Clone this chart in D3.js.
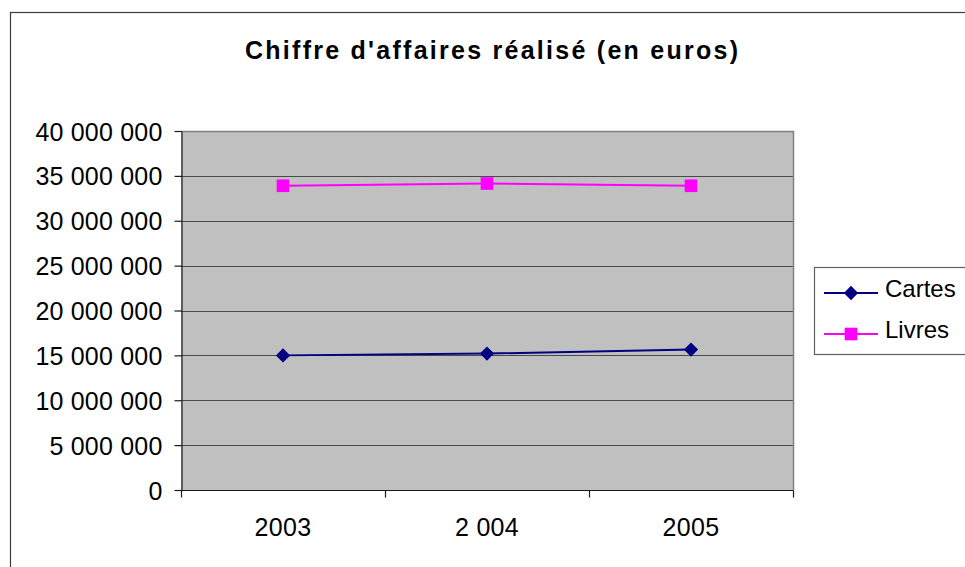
<!DOCTYPE html>
<html>
<head>
<meta charset="utf-8">
<script src="https://cdn.jsdelivr.net/npm/d3@7"></script>
<style>
  body { margin: 0; background: #fff; }
  text { font-family: Arial, "Liberation Sans", sans-serif; fill: #000; }
</style>
</head>
<body>
<div id="chart"></div>
<script>
// data
let categories = ["2003", "2 004", "2005"]
let cartes = [15000000, 15200000, 15650000]
let livres = [33900000, 34150000, 33900000]
let seriesNames = ["Cartes", "Livres"]
let yTicks = [0, 5000000, 10000000, 15000000, 20000000, 25000000, 30000000, 35000000, 40000000]

let width = 965,
    height = 567

let plot = { left: 181, right: 793, top: 131, bottom: 490 }

let fr = d3.formatLocale({ decimal: ",", thousands: " ", grouping: [3], currency: ["", " €"] })
let fmt = fr.format(",")

let svg = d3.select("#chart")
  .append("svg")
    .attr("width", width)
    .attr("height", height)

// outer chart frame (goes past the window on the right and bottom)
svg.append("rect")
  .attr("x", 10.5).attr("y", 12.5)
  .attr("width", 1000).attr("height", 600)
  .attr("fill", "#fff")
  .attr("stroke", "#3c3c3c")
  .attr("stroke-width", 1.2)

// title
svg.append("text")
  .attr("x", 491.5).attr("y", 59)
  .attr("text-anchor", "middle")
  .attr("textLength", 493)
  .attr("lengthAdjust", "spacing")
  .style("font-size", "25px")
  .style("font-weight", "bold")
  .text("Chiffre d'affaires réalisé (en euros)")

let x = d3.scaleBand()
  .domain(categories)
  .range([plot.left, plot.right])
  .padding(0)

let y = d3.scaleLinear()
  .domain([0, 40000000])
  .range([plot.bottom, plot.top])

// plot area background
svg.append("rect")
  .attr("x", plot.left).attr("y", plot.top)
  .attr("width", plot.right - plot.left)
  .attr("height", plot.bottom - plot.top)
  .attr("fill", "#c0c0c0")

// gridlines
svg.append("g")
  .selectAll("line")
  .data(yTicks.filter(d => d > 0 && d < 40000000))
  .join("line")
    .attr("x1", plot.left).attr("x2", plot.right)
    .attr("y1", d => Math.round(y(d)) + 0.5)
    .attr("y2", d => Math.round(y(d)) + 0.5)
    .attr("stroke", "#4a4a4a")
    .attr("stroke-width", 1.2)

// top and right border of plot area
svg.append("path")
  .attr("d", "M" + plot.left + "," + (plot.top + 0.5) + "H" + (plot.right + 0.5) + "V" + plot.bottom)
  .attr("fill", "none")
  .attr("stroke", "#808080")
  .attr("stroke-width", 1.5)

// y axis
let yAxis = svg.append("g")
  .attr("transform", "translate(" + (plot.left + 0.5) + ",0)")
  .call(d3.axisLeft(y).tickValues(yTicks).tickFormat(fmt).tickSize(7).tickPadding(12).tickSizeOuter(0))
yAxis.select(".domain").attr("stroke", "#1a1a1a").attr("stroke-width", 1.2)
yAxis.selectAll(".tick line").attr("stroke", "#1a1a1a").attr("stroke-width", 1.2)
yAxis.selectAll(".tick text")
  .attr("font-family", null)
  .attr("font-size", null)
  .style("font-size", "25px")
  .style("letter-spacing", "0.2px")
  .attr("dy", "0.36em")

// x axis, ticks at the band edges
let xAxis = svg.append("g")
  .attr("transform", "translate(0," + (plot.bottom + 0.5) + ")")
xAxis.append("line")
  .attr("x1", plot.left).attr("x2", plot.right + 0.5)
  .attr("stroke", "#1a1a1a").attr("stroke-width", 1.2)
let edges = categories.map(c => x(c)).concat([plot.right])
xAxis.selectAll(".edge")
  .data(edges)
  .join("line")
    .attr("class", "edge")
    .attr("x1", d => Math.round(d) + 0.5).attr("x2", d => Math.round(d) + 0.5)
    .attr("y1", 0).attr("y2", 7)
    .attr("stroke", "#1a1a1a").attr("stroke-width", 1.2)
xAxis.selectAll(".lbl")
  .data(categories)
  .join("text")
    .attr("class", "lbl")
    .attr("x", d => x(d) + x.bandwidth() / 2)
    .attr("y", 45)
    .attr("text-anchor", "middle")
    .style("font-size", "25px")
    .style("letter-spacing", "0.3px")
    .text(d => d)

let colors = { Cartes: "#000080", Livres: "#ff00ff" }
let seriesData = [
  { name: "Cartes", values: cartes },
  { name: "Livres", values: livres }
]

let line = d3.line()
  .x((d, i) => x(categories[i]) + x.bandwidth() / 2)
  .y(d => y(d))

let diamond = d3.symbol().type(d3.symbolDiamond2).size(130)
let square = d3.symbol().type(d3.symbolSquare).size(160)

seriesData.forEach(function(s) {
  svg.append("path")
    .datum(s.values)
    .attr("d", line)
    .attr("fill", "none")
    .attr("stroke", colors[s.name])
    .attr("stroke-width", 2)

  svg.append("g")
    .selectAll("path")
    .data(s.values)
    .join("path")
      .attr("transform", (d, i) => "translate(" + (x(categories[i]) + x.bandwidth() / 2) + "," + y(d) + ")")
      .attr("d", s.name === "Cartes" ? diamond : square)
      .attr("fill", colors[s.name])
})

// legend
let legend = svg.append("g")
legend.append("rect")
  .attr("x", 814.5).attr("y", 267.5)
  .attr("width", 200).attr("height", 87)
  .attr("fill", "#fff")
  .attr("stroke", "#606060")
  .attr("stroke-width", 1.2)

let rows = legend.selectAll(".row")
  .data(seriesNames)
  .join("g")
    .attr("class", "row")
    .attr("transform", (d, i) => "translate(0," + (293 + i * 41) + ")")
rows.append("line")
  .attr("x1", 824).attr("x2", 878)
  .attr("stroke", d => colors[d])
  .attr("stroke-width", 2)
rows.append("path")
  .attr("transform", "translate(851,0)")
  .attr("d", d => d === "Cartes" ? diamond() : square())
  .attr("fill", d => colors[d])
rows.append("text")
  .attr("x", 885).attr("y", 4)
  .style("font-size", "24px")
  .text(d => d)
</script>
</body>
</html>
